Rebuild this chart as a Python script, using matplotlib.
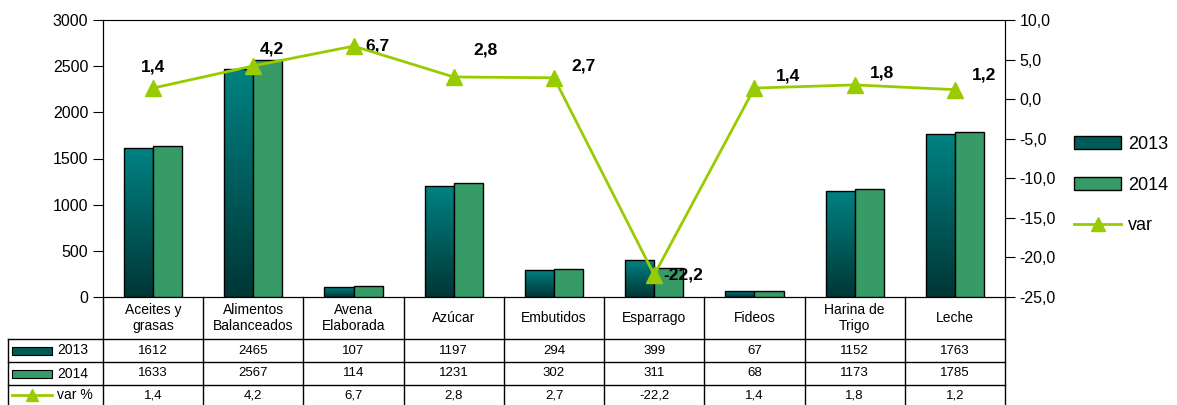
import matplotlib.pyplot as plt
import numpy as np
from matplotlib.colors import LinearSegmentedColormap
from matplotlib.lines import Line2D
from matplotlib.patches import Patch, Rectangle

plt.rcParams['font.family'] = ['Liberation Sans', 'DejaVu Sans']

categorias = ['Aceites y\ngrasas', 'Alimentos\nBalanceados', 'Avena\nElaborada', 'Azúcar',
              'Embutidos', 'Esparrago', 'Fideos', 'Harina de\nTrigo', 'Leche']
v2013 = [1612, 2465, 107, 1197, 294, 399, 67, 1152, 1763]
v2014 = [1633, 2567, 114, 1231, 302, 311, 68, 1173, 1785]
var = [1.4, 4.2, 6.7, 2.8, 2.7, -22.2, 1.4, 1.8, 1.2]

# desplazamiento de etiquetas (pixeles)
offs = [(0, 21), (19, 17), (24, 0), (32, 27), (29, 12), (29, 0), (34, 12), (27, 12), (29, 15)]

def coma(v, fmt='{:.1f}'):
    return fmt.format(v).replace('.', ',')

W, H = 1177, 405
fig = plt.figure(figsize=(W / 100, H / 100), dpi=100)
L, R, T, B = 103, 1005, 20, 297
ax = fig.add_axes([L / W, 1 - B / H, (R - L) / W, (B - T) / H])
ax2 = ax.twinx()

c13_top, c13_bot = '#008282', '#003636'
c14 = '#379b67'
verde = '#99cc00'
cmap = LinearSegmentedColormap.from_list('g13', [c13_bot, c13_top])
grad = np.linspace(0, 1, 256).reshape(-1, 1)

x = np.arange(len(categorias))
bw = 0.29
b13 = ax.bar(x - bw / 2, v2013, bw, color='none', edgecolor='black', linewidth=1, zorder=3)
b14 = ax.bar(x + bw / 2, v2014, bw, color=c14, edgecolor='black', linewidth=1, zorder=3)
for r in b13:
    x0, y0 = r.get_x(), r.get_y()
    im = ax.imshow(grad, cmap=cmap, origin='lower', aspect='auto',
                   extent=[x0, x0 + r.get_width(), y0, y0 + r.get_height()], zorder=2)
    im.set_clip_path(r)

ax.set_xlim(-0.5, len(categorias) - 0.5)
ax.set_ylim(0, 3000)
ax.set_yticks(range(0, 3001, 500))
ax.set_xticks([])
ax.tick_params(axis='y', labelsize=11.5, length=7, direction='out')
ax.spines['top'].set_color('#a0a0a0')
for s in ['left', 'bottom', 'right']:
    ax.spines[s].set_color('black')

ax2.plot(x, var, color=verde, linewidth=2, marker='^', markersize=11, zorder=5)
ax2.set_ylim(-25, 10)
ax2.set_yticks(np.arange(-25, 10.1, 5))
ax2.set_yticklabels([coma(t) for t in np.arange(-25, 10.1, 5)])
ax2.tick_params(axis='y', labelsize=11.5, length=7, direction='out')
for xi, v, (dx, dy) in zip(x, var, offs):
    ax2.annotate(coma(v), (xi, v), xytext=(dx, dy), textcoords='offset pixels',
                 ha='center', va='center', fontsize=12.5, fontweight='bold')

# tabla de datos
tr = ax.get_xaxis_transform()
ph = B - T
def fy(px):
    return -px / ph
x_left = -0.5 - (L - 8) / ((R - L) / len(categorias))
rows = [0, 42, 65, 88, 120]
for b in np.arange(-0.5, len(categorias), 1.0):
    ax.plot([b, b], [0, fy(rows[-1])], transform=tr, color='black', lw=1, clip_on=False)
ax.plot([x_left, x_left], [fy(rows[1]), fy(rows[-1])], transform=tr, color='black', lw=1, clip_on=False)
for r in rows[1:4]:
    ax.plot([x_left, len(categorias) - 0.5], [fy(r), fy(r)], transform=tr, color='black', lw=1, clip_on=False)

for xi, c in zip(x, categorias):
    ax.text(xi, fy(rows[1] / 2), c, transform=tr, ha='center', va='center', fontsize=10,
            linespacing=1.15)
for i, serie in enumerate([v2013, v2014]):
    yc = fy((rows[i + 1] + rows[i + 2]) / 2)
    for xi, v in zip(x, serie):
        ax.text(xi, yc, str(v), transform=tr, ha='center', va='center', fontsize=9.5)
yc = fy((rows[3] + 108) / 2)
for xi, v in zip(x, var):
    ax.text(xi, yc, coma(v), transform=tr, ha='center', va='center', fontsize=9.5)

# encabezados de filas
cw = (R - L) / len(categorias)
hx0 = x_left + 4 / cw
hx1 = x_left + 44 / cw
for i, (col, lab) in enumerate([(c13_top, '2013'), (c14, '2014')]):
    yc = fy((rows[i + 1] + rows[i + 2]) / 2)
    fc = '#005a5a' if i == 0 else col
    ax.add_patch(Rectangle((hx0, yc - 4 / ph), hx1 - hx0, 8 / ph, transform=tr, facecolor=fc,
                           edgecolor='black', lw=0.8, clip_on=False))
    ax.text(hx1 + 5 / cw, yc, lab, transform=tr, ha='left', va='center', fontsize=10)
yc = fy((rows[3] + 108) / 2)
ax.add_line(Line2D([hx0, (hx0 + hx1) / 2, hx1], [yc, yc, yc], transform=tr, color=verde, lw=2,
                   marker='^', markersize=8, markevery=[1], clip_on=False))
ax.text(hx1 + 5 / cw, yc, 'var %', transform=tr, ha='left', va='center', fontsize=10)

# leyenda
handles = [Patch(facecolor='#005a5a', edgecolor='black'),
           Patch(facecolor=c14, edgecolor='black'),
           Line2D([], [], color=verde, lw=2, marker='^', markersize=10)]
fig.legend(handles, ['2013', '2014', 'var'], loc='center left',
           bbox_to_anchor=(1058 / W, 1 - 185 / H), frameon=False, fontsize=13,
           handlelength=2.6, handleheight=0.7, labelspacing=1.3, handletextpad=0.4)

fig.savefig('out.png', dpi=100)
